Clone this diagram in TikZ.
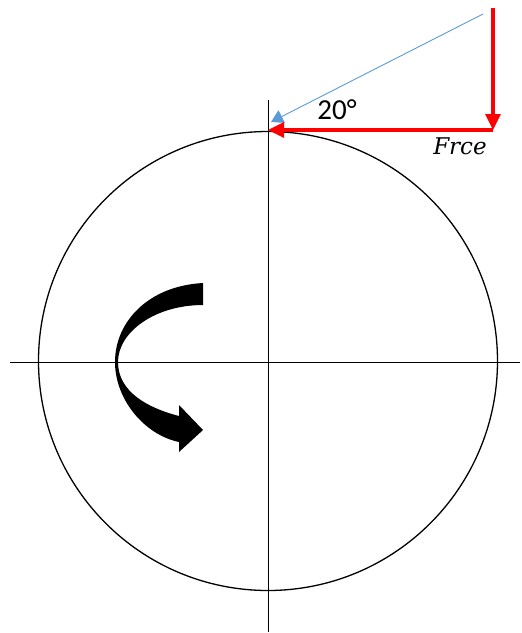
\documentclass[tikz,border=0pt]{standalone}
\usepackage{fontspec}
\newfontfamily\anglefont{Carlito}
\newfontfamily\forcefont{DejaVu Serif}
\usetikzlibrary{positioning,arrows.meta,calc}
\definecolor{compblue}{RGB}{91,155,213}
\tikzset{
  axis/.style={draw=black, line width=0.8pt},
  rim/.style={draw=black, line width=1.3pt},
  force/.style={draw=red, line width=3.2pt, -{Triangle[length=16pt,width=15pt]}},
  tilted/.style={draw=compblue, line width=0.9pt, -{Triangle[length=12pt,width=14pt]}},
  turn/.style={fill=black}
}

\begin{document}
\begin{tikzpicture}[x=1pt, y=-1pt]
    \useasboundingbox (0,0) rectangle (522,633);
    \coordinate (c0) at (268,361);
    \coordinate (xl) at (10,362);
    \coordinate (xr) at (520,362);
    \coordinate (yt) at (268,100);
    \coordinate (yb) at (268,632);

    \draw[axis] (xl) -- (xr);
    \draw[axis] (yt) -- (yb);
    \draw[rim]  (c0) circle[radius=229.5pt];

    % force triangle
    \coordinate (Ftop) at (493,8);
    \coordinate (Fcorner) at (493,130);
    \coordinate (Ftip) at (268,128);
    \coordinate (Btail) at (483,14);
    \coordinate (Btip) at (271,122);

    \draw[tilted] (Btail) -- (Btip);
    \draw[force]  (Fcorner) -- (Ftip |- Fcorner);
    \draw[force]  (Ftop) -- (Fcorner);

    \node[font=\anglefont\fontsize{29}{34}\selectfont] (ang) at (337,110) {20°};
    \node[font=\forcefont\itshape\fontsize{23}{28}\selectfont] (frce) at (460,146) {Frce};

    % rotation arrow
    \fill[turn] (203,283) .. controls (148,286) and (115,322) .. (115,362)
                .. controls (115,400) and (145,435) .. (179,442)
                -- (179,452) -- (203,430) -- (179,405) -- (179,416)
                .. controls (148,408) and (118,392) .. (118,362)
                .. controls (118,332) and (155,305) .. (203,305) -- cycle;
\end{tikzpicture}
\end{document}
